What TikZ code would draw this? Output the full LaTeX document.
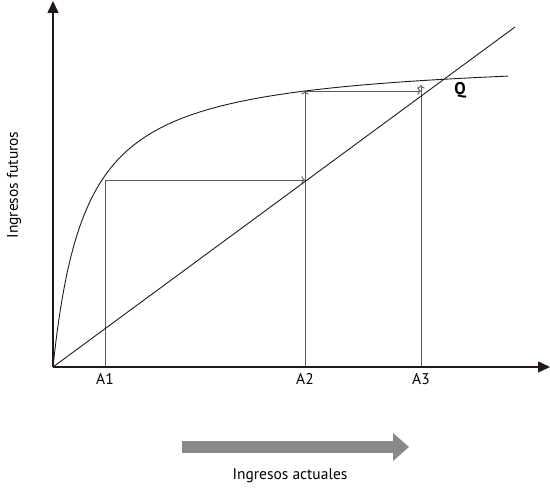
\documentclass[tikz,border=0pt]{standalone}
\usepackage{fontspec}
\setmainfont{PT Sans}
\usetikzlibrary{arrows.meta}
\definecolor{ink}{RGB}{35, 24, 21}
\definecolor{gg}{RGB}{95, 90, 90}
\definecolor{band}{RGB}{137, 137, 140}
\begin{document}
\begin{tikzpicture}[x=1pt, y=1pt,
  axis/.style={line width=1.5pt, color=ink, -{Triangle[length=12pt, width=11pt]}},
  guide/.style={line width=0.9pt, color=gg},
  lbl/.style={font=\fontsize{15.5}{18}\selectfont, inner sep=0pt}]
\useasboundingbox (0pt, 0pt) rectangle (550pt, -489pt);
\coordinate (O) at (53pt, -367pt);
\coordinate (xend) at (550pt, -367pt);
\coordinate (yend) at (53pt, -1pt);
\coordinate (lend) at (515pt, -27pt);
\coordinate (a1) at (105pt, -367pt);
\coordinate (a2) at (305pt, -367pt);
\coordinate (a3) at (421pt, -367pt);
\coordinate (p1) at (105pt, -180pt);
\coordinate (p2) at (305pt, -180pt);
\coordinate (c2) at (305pt, -91pt);
\coordinate (c3) at (421pt, -91pt);
\coordinate (t3) at (421pt, -85pt);
\coordinate (b1) at (182pt, -447pt);
\coordinate (b2) at (409pt, -447pt);
\node (A1) [lbl] at (105pt, -379pt) {A1};
\node (A2) [lbl] at (305pt, -379pt) {A2};
\node (A3) [lbl] at (421pt, -379pt) {A3};
\node (Q) [lbl, font=\fontsize{17}{20}\selectfont\bfseries] at (460pt, -90pt) {Q};
\node (yl) [lbl, rotate=90] at (14pt, -185pt) {Ingresos futuros};
\node (xl) [lbl] at (290pt, -476pt) {Ingresos actuales};
% guides
\draw [guide, ->] (a1) -- (p1) -- (p2);
\draw [guide, ->] (a2) -- (c2);
\draw [guide, ->] (c2) -- (c3);
\draw [guide, ->] (a3) -- (t3);
% line and curve
\draw [line width=0.9pt, color=ink] (O) -- (lend);
\draw [line width=0.9pt, color=ink, domain=0:455, samples=300]
  plot ({(53+\x)*1pt}, {-(367-311.8*(\x/(\x+32.7)))*1pt});
% axes
\draw [axis] (O) -- (xend);
\draw [axis] (O) -- (yend);
\draw [line width=12pt, color=band, -{Triangle[length=16pt, width=27pt]}] (b1) -- (b2);
\end{tikzpicture}
\end{document}
